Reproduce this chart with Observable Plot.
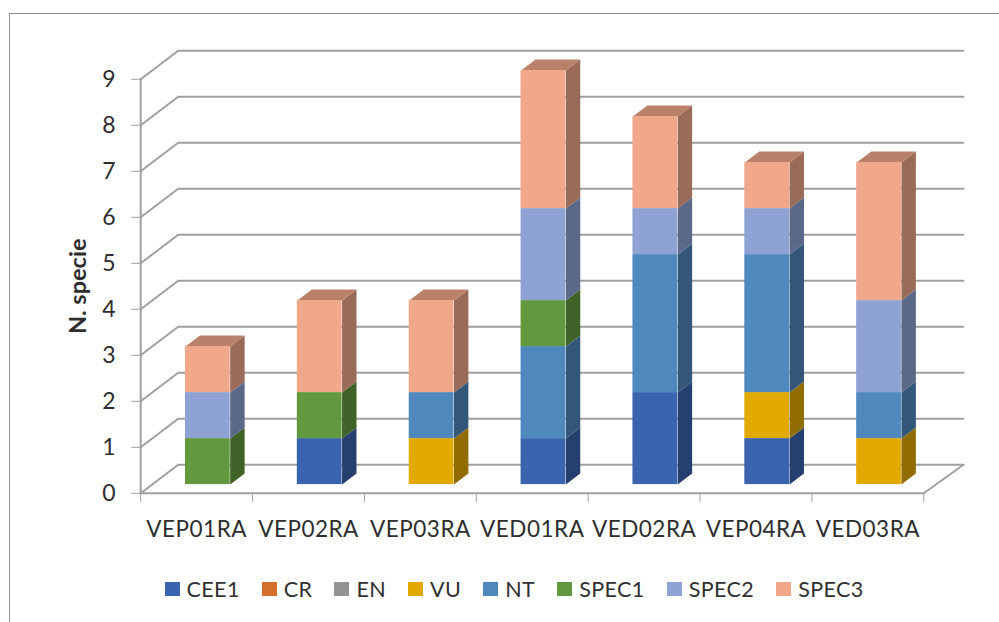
<!DOCTYPE html>
<html>
<head>
<meta charset="utf-8">
<script src="https://cdn.jsdelivr.net/npm/d3@7"></script>
<script src="https://cdn.jsdelivr.net/npm/@observablehq/plot@0.6"></script>
<style>
  html, body { margin: 0; padding: 0; background: #fff; overflow: hidden; }
  #wrap { position: relative; width: 999px; height: 622px; font-family: Lato, sans-serif; }
  #frame { position: absolute; left: 9px; top: 13px; right: 0; bottom: 0;
           border-left: 1.5px solid #909090; border-top: 1.5px solid #909090; pointer-events: none; }
  #chart { position: absolute; left: 0; top: 0; }
  #chart svg { display: block; background: transparent; }
  #legend { position: absolute; left: 164.5px; top: 577px; display: flex; align-items: center;
            font-size: 21.5px; letter-spacing: 0.4px; color: #303030; height: 24px; }
  #legend .item { display: flex; align-items: center; margin-right: 22px; }
  #legend .sw { width: 15px; height: 14.5px; margin-right: 7px; }
</style>
</head>
<body>
<div id="wrap">
  <div id="chart"></div>
  <div id="frame"></div>
  <div id="legend"></div>
</div>
<script>
const categories = ["VEP01RA","VEP02RA","VEP03RA","VED01RA","VED02RA","VEP04RA","VED03RA"];
const seriesNames = ["CEE1","CR","EN","VU","NT","SPEC1","SPEC2","SPEC3"];
const seriesColors = ["#3a64ae","#d5702c","#939393","#e2a900","#4f88bd","#62993e","#8fa2d4","#f1a78a"];
const CEE1  = [0,1,0,1,2,1,0];
const CR    = [0,0,0,0,0,0,0];
const EN    = [0,0,0,0,0,0,0];
const VU    = [0,0,1,0,0,1,1];
const NT    = [0,0,1,2,3,3,1];
const SPEC1 = [1,1,0,1,0,0,0];
const SPEC2 = [1,0,0,2,1,1,2];
const SPEC3 = [1,2,2,3,2,1,3];
const seriesValues = [CEE1,CR,EN,VU,NT,SPEC1,SPEC2,SPEC3];
const yTicks = [0,1,2,3,4,5,6,7,8,9];

// oblique projection: one unit of depth moves a point this far in data units
const depthX = 0.335, depthY = 0.62, backRightX = 0.355;
const barFrom = 0.298, barTo = 0.698, depthFront = 0.305, depthBack = 0.69;
const n = categories.length;
const at = (cx, v, d) => ({x: cx + d * depthX, y: v + d * depthY});
const shade = (c, k) => { const r = d3.rgb(c); return d3.rgb(r.r*k, r.g*k, r.b*k).formatHex(); };

const fronts = [], sides = [], tops = [];
categories.forEach((cat, i) => {
  let base = 0, lastTop = null;
  seriesValues.forEach((vals, s) => {
    const v = vals[i];
    if (!v) return;
    const a = base, b = base + v, c = seriesColors[s];
    const L = i + barFrom, R = i + barTo;
    const f0 = at(L, a, depthFront), f1 = at(R, b, depthFront);
    fronts.push({x1: f0.x, x2: f1.x, y1: f0.y, y2: f1.y, fill: c});
    const id = cat + s;
    [at(R,a,depthFront), at(R,a,depthBack), at(R,b,depthBack), at(R,b,depthFront)]
      .forEach(p => sides.push({...p, id, fill: shade(c, 0.64)}));
    lastTop = {b, c, id};
    base = b;
  });
  const {b, c, id} = lastTop;
  const L = i + barFrom, R = i + barTo;
  [at(L,b,depthFront), at(L,b,depthBack), at(R,b,depthBack), at(R,b,depthFront)]
    .forEach(p => tops.push({...p, id, fill: shade(c, 0.77)}));
});

// walls and floor
const wall = [];
yTicks.forEach(v => {
  [at(0,v,0), at(0,v,1), {x: n + backRightX, y: v + depthY}].forEach(p => wall.push({...p, id: "w"+v}));
});
const floorFront = [{x: n + backRightX, y: depthY}, at(n,0,0), at(0,0,0)].map(p => ({...p, id: "f"}));
const leftEdge = [at(0,0,0), at(0,9,0)].map(p => ({...p, id: "l"}));

const grey = "#a0a0a0", ink = "#2e2e2e";
const mid = categories.map((_, i) => i + 0.5);
const plot = Plot.plot({
  width: 999, height: 560,
  marginLeft: 140.2, marginRight: 36, marginTop: 78.8, marginBottom: 67.2,
  x: {domain: [0, n + backRightX], axis: null},
  y: {domain: [0, 9], axis: null},
  color: {type: "identity"},
  style: {fontFamily: "Lato, sans-serif", background: "transparent", overflow: "visible"},
  marks: [
    Plot.line(wall, {x: "x", y: "y", z: "id", stroke: grey, strokeWidth: 2}),
    Plot.line(floorFront, {x: "x", y: "y", z: "id", stroke: grey, strokeWidth: 2}),
    Plot.line(leftEdge, {x: "x", y: "y", z: "id", stroke: grey, strokeWidth: 2}),
    Plot.axisY({ticks: yTicks, tickSize: 9, tickPadding: 16, label: null, stroke: grey, fill: ink, fontSize: 23}),
    Plot.axisX({ticks: d3.range(n + 1), tickSize: 9, tickFormat: () => "", label: null, stroke: grey, anchor: "bottom"}),
    Plot.axisX({ticks: mid, tickFormat: v => categories[v - 0.5], tickSize: 0, tickPadding: 28, label: null, fill: ink, fontSize: 22.5, anchor: "bottom"}),
    Plot.text(["N. specie"], {frameAnchor: "left", textAnchor: "middle", dx: -62.7, rotate: -90, fontWeight: "bold", fontSize: 23.5, fill: ink}),
    Plot.line(sides, {x: "x", y: "y", z: "id", fill: "fill", stroke: "none"}),
    Plot.line(tops, {x: "x", y: "y", z: "id", fill: "fill", stroke: "none"}),
    Plot.rect(fronts, {x1: "x1", x2: "x2", y1: "y1", y2: "y2", fill: "fill", inset: 0})
  ]
});
plot.querySelectorAll("text").forEach(t => {
  if (categories.includes(t.textContent)) t.style.letterSpacing = "0.5px";
});
document.getElementById("chart").appendChild(plot);

const legend = document.getElementById("legend");
seriesNames.forEach((name, i) => {
  const item = document.createElement("div");
  item.className = "item";
  const sw = document.createElement("div");
  sw.className = "sw";
  sw.style.background = seriesColors[i];
  const t = document.createElement("span");
  t.textContent = name;
  item.append(sw, t);
  legend.appendChild(item);
});
</script>
</body>
</html>
